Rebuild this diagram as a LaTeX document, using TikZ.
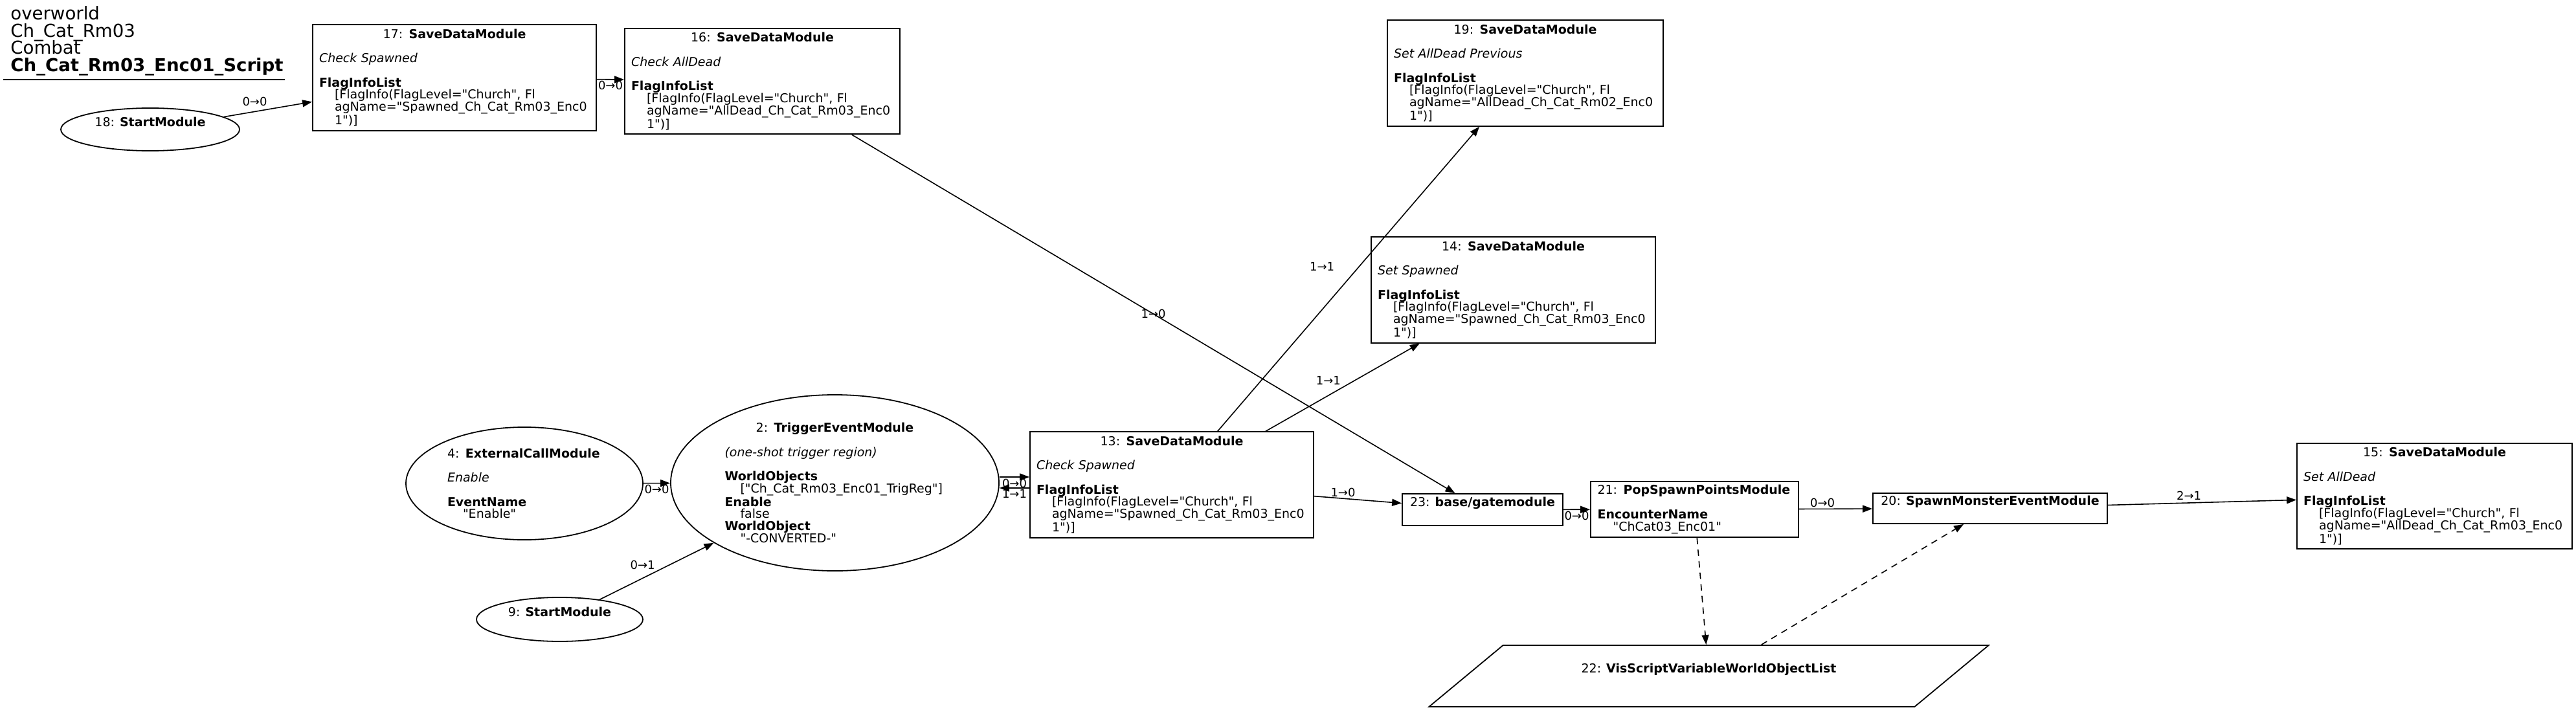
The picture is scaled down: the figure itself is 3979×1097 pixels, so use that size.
\documentclass[tikz,border=0pt]{standalone}
\usepackage{fontspec}
\setmainfont{DejaVu Sans}[Ligatures=TeXOff,BoldFont={DejaVu Sans Bold},ItalicFont={DejaVu Sans Oblique},BoldItalicFont={DejaVu Sans Bold Oblique}]
\usetikzlibrary{arrows.meta,shapes.geometric}
\setlength{\parindent}{0pt}
\lineskiplimit=-\maxdimen

\begin{document}
\begin{tikzpicture}[x=0.5pt, y=-0.5pt,
    every node/.style={font=\fontsize{9.5}{9.35}\selectfont},
    savebox/.style={draw, line width=0.9pt, rectangle, align=left, text width=209pt, minimum height=80pt, inner xsep=5pt},
    plainbox/.style={draw, line width=0.9pt, rectangle, inner ysep=2pt},
    module/.style={draw, line width=0.9pt, ellipse, inner sep=0pt},
    toptext/.style={text height=7.2pt, text depth=11.8pt},
    flow/.style={draw, line width=0.8pt, -{Triangle[length=7.5pt,width=5.5pt]}},
    varflow/.style={flow, dash pattern=on 5pt off 4pt},
    lbl/.style={font=\fontsize{9}{9}\selectfont, inner sep=1pt}]
\useasboundingbox (0,0) rectangle (3979,1097);

\node[anchor=north west, align=left, inner sep=0pt, font=\fontsize{13.8}{13.4}\selectfont] (title) at (16,9)
    {overworld\\Ch\_Cat\_Rm03\\Combat\\\textbf{Ch\_Cat\_Rm03\_Enc01\_Script}};
\draw[line width=0.9pt] (5,123) -- (440,123);

\node[module, toptext, minimum width=138pt, minimum height=33pt] (n18) at (232,200) {18: \textbf{StartModule}};
\node[savebox] (n17) at (702,120) {\hfill 17: \textbf{SaveDataModule}\hfill\null\\[9.35pt]
    \textit{Check Spawned}\\[9.35pt]
    \textbf{FlagInfoList}\\
    \hspace*{12pt}[FlagInfo(FlagLevel="Church", Fl\\
    \hspace*{12pt}agName="Spawned\_Ch\_Cat\_Rm03\_Enc0\\
    \hspace*{12pt}1")]};
\node[savebox, text width=202.5pt] (n16) at (1177.5,125.5) {\hfill 16: \textbf{SaveDataModule}\hfill\null\\[9.35pt]
    \textit{Check AllDead}\\[9.35pt]
    \textbf{FlagInfoList}\\
    \hspace*{12pt}[FlagInfo(FlagLevel="Church", Fl\\
    \hspace*{12pt}agName="AllDead\_Ch\_Cat\_Rm03\_Enc0\\
    \hspace*{12pt}1")]};
\node[savebox, text width=203pt] (n19) at (2356,113) {\hfill 19: \textbf{SaveDataModule}\hfill\null\\[9.35pt]
    \textit{Set AllDead Previous}\\[9.35pt]
    \textbf{FlagInfoList}\\
    \hspace*{12pt}[FlagInfo(FlagLevel="Church", Fl\\
    \hspace*{12pt}agName="AllDead\_Ch\_Cat\_Rm02\_Enc0\\
    \hspace*{12pt}1")]};
\node[savebox, text width=209.5pt] (n14) at (2337.5,448) {\hfill 14: \textbf{SaveDataModule}\hfill\null\\[9.35pt]
    \textit{Set Spawned}\\[9.35pt]
    \textbf{FlagInfoList}\\
    \hspace*{12pt}[FlagInfo(FlagLevel="Church", Fl\\
    \hspace*{12pt}agName="Spawned\_Ch\_Cat\_Rm03\_Enc0\\
    \hspace*{12pt}1")]};

\node[module, align=left, text width=119pt, minimum width=183pt, minimum height=87pt] (n4) at (810,747)
    {4: \textbf{ExternalCallModule}\\[9.35pt]
    \textit{Enable}\\[9.35pt]
    \textbf{EventName}\\
    \hspace*{12pt}"Enable"};
\node[module, align=left, text width=170pt, minimum width=253.5pt, minimum height=136pt] (n2) at (1289.5,746)
    {\hfill 2: \textbf{TriggerEventModule}\hfill\null\\[9.35pt]
    \textit{(one-shot trigger region)}\\[9.35pt]
    \textbf{WorldObjects}\\
    \hspace*{12pt}["Ch\_Cat\_Rm03\_Enc01\_TrigReg"]\\
    \textbf{Enable}\\
    \hspace*{12pt}false\\
    \textbf{WorldObject}\\
    \hspace*{12pt}"-CONVERTED-"};
\node[module, toptext, minimum width=128.5pt, minimum height=34pt] (n9) at (864.5,957) {9: \textbf{StartModule}};
\node[savebox] (n13) at (1810,749) {\hfill 13: \textbf{SaveDataModule}\hfill\null\\[9.35pt]
    \textit{Check Spawned}\\[9.35pt]
    \textbf{FlagInfoList}\\
    \hspace*{12pt}[FlagInfo(FlagLevel="Church", Fl\\
    \hspace*{12pt}agName="Spawned\_Ch\_Cat\_Rm03\_Enc0\\
    \hspace*{12pt}1")]};
\node[plainbox, toptext, minimum width=124pt, minimum height=24.5pt] (n23) at (2290,787.5) {23: \textbf{base/gatemodule}};
\node[plainbox, align=left, text width=150pt, inner xsep=5.25pt, minimum height=43pt] (n21) at (2617.5,787)
    {21: \textbf{PopSpawnPointsModule}\\[9.35pt]
    \textbf{EncounterName}\\
    \hspace*{12pt}"ChCat03\_Enc01"};
\node[plainbox, toptext, minimum width=181pt, minimum height=23.5pt] (n20) at (3074,785.5) {20: \textbf{SpawnMonsterEventModule}};
\node[savebox, text width=202.5pt] (n15) at (3760.5,766.5) {\hfill 15: \textbf{SaveDataModule}\hfill\null\\[9.35pt]
    \textit{Set AllDead}\\[9.35pt]
    \textbf{FlagInfoList}\\
    \hspace*{12pt}[FlagInfo(FlagLevel="Church", Fl\\
    \hspace*{12pt}agName="AllDead\_Ch\_Cat\_Rm03\_Enc0\\
    \hspace*{12pt}1")]};
\node[draw, line width=0.9pt, trapezium, trapezium left angle=28.2, trapezium right angle=151.8, trapezium stretches=true,
    minimum width=433.5pt, minimum height=47.5pt, inner sep=0pt, toptext] (n22) at (2639.5,1044.5)
    {22: \textbf{VisScriptVariableWorldObjectList}};

\draw[flow] (n18) -- (n17) node[lbl, pos=.35, above=3pt] {0→0};
\draw[flow] (n17) -- (n16) node[lbl, pos=.5, below] {0→0};
\draw[flow] (n16) -- (n23) node[lbl, pos=.5] {1→0};
\draw[flow] (n4) -- (n2) node[lbl, pos=.5, below] {0→0};
\draw[flow] (n9) -- (n2) node[lbl, pos=.5, above left] {0→1};
\draw[flow] ([yshift=4.5pt]n2.east) -- ([yshift=6pt]n13.west) node[lbl, pos=.5, below] {0→0};
\draw[flow] ([yshift=-2.5pt]n13.west) -- ([yshift=-4pt]n2.east) node[lbl, pos=.5, below] {1→1};
\draw[flow] (n13) -- (n19) node[lbl, pos=.54, xshift=-28.5pt] {1→1};
\draw[flow] (n13) -- (n14) node[lbl, pos=.58, xshift=-20.5pt] {1→1};
\draw[flow] (n13) -- (n23) node[lbl, pos=.33, above] {1→0};
\draw[flow] (n23) -- (n21) node[lbl, pos=.5, below] {0→0};
\draw[flow] (n21) -- (n20) node[lbl, pos=.32, above] {0→0};
\draw[flow] (n20) -- (n15) node[lbl, pos=.43, above=1pt] {2→1};
\draw[varflow] (n21) -- (n22);
\draw[varflow] (n22) -- (n20);
\end{tikzpicture}
\end{document}
